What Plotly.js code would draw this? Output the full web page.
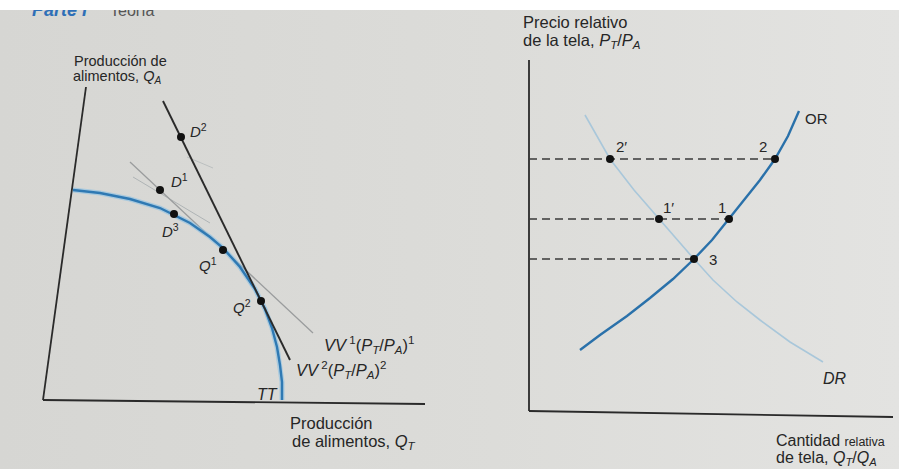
<!DOCTYPE html>
<html><head><meta charset="utf-8">
<script src="https://cdn.plot.ly/plotly-3.0.1.min.js"></script>
<style>
html,body{margin:0;padding:0;background:#ffffff;overflow:hidden;}
#chart{width:899px;height:459px;margin-top:10px;background:linear-gradient(to right,#d6d6d3,#dcdcd9 55%,#e3e3e1);}
</style></head><body><div id="chart"></div>
<script>
// ---------- Left panel: production possibilities ----------
const axisQAx = [0, 4.3],  axisQAy = [0, 31.3];
const axisQTx = [0, 38.2], axisQTy = [0, -0.4];
const ttX = [3.0, 5.7, 8.7, 11.7, 13.1, 14.7, 16.7, 18.0, 19.7, 21.2, 22.2, 22.9, 23.4, 23.7, 23.9, 23.9];
const ttY = [21.0, 20.7, 20.1, 19.2, 18.5, 17.7, 16.3, 15.2, 13.3, 11.1, 9.1, 7.2, 5.3, 3.5, 1.8, 0.0];
const vv2X = [12.0, 24.7], vv2Y = [29.9, 4.0];
const vv1X = [8.7, 27.0],  vv1Y = [23.8, 6.7];
const faintX = [9.0, 16.7], faintY = [22.3, 17.7];
const faint2X = [14.4, 17.0], faint2Y = [24.3, 23.2];
const leftPtNames = ['D2', 'D1', 'D3', 'Q1', 'Q2'];
const leftPtX = [13.8, 11.7, 13.1, 18.0, 21.8];
const leftPtY = [26.3, 21.0, 18.6, 15.0, 9.9];
const leftLabels = ['<i>D</i><sup>2</sup>', '<i>D</i><sup>1</sup>', '<i>D</i><sup>3</sup>', '<i>Q</i><sup>1</sup>', '<i>Q</i><sup>2</sup>'];
const leftLabX = [15.5, 13.6, 12.7, 16.5, 19.9];
const leftLabY = [27.0, 22.0, 17.0, 13.6, 9.4];

// ---------- Right panel: relative supply and demand ----------
const axisPx = [0, 0],    axisPy = [0, 35.1];
const axisQx = [0, 36.4], axisQy = [0, -0.6];
const orX = [5.1, 7.1, 9.8, 12.1, 14.4, 16.5, 18.3, 20.0, 21.6, 23.1, 24.6, 25.9, 27.0];
const orY = [6.1, 7.6, 9.5, 11.3, 13.2, 15.2, 17.1, 19.2, 21.2, 23.1, 25.2, 27.5, 30.0];
const drX = [5.6, 6.9, 8.1, 10.5, 13.0, 16.5, 18.4, 20.8, 23.1, 26.1, 29.4];
const drY = [29.6, 27.3, 25.2, 22.1, 19.2, 15.2, 13.1, 10.9, 9.1, 6.9, 4.9];
const rightPtNames = ['2′', '2', '1′', '1', '3'];
const rightPtX = [8.1, 24.6, 13.0, 20.0, 16.5];
const rightPtY = [25.2, 25.2, 19.2, 19.2, 15.2];
const levelEndX = [24.6, 20.0, 16.5];
const levelY = [25.2, 19.2, 15.2];
const rightLabX = [9.2, 23.4, 13.9, 19.3, 18.4];
const rightLabY = [26.5, 26.5, 20.4, 20.4, 15.2];

const black = '#2a2a2a';
const traces = [];
function line(x, y, color, width, xa, ya, dash) {
  traces.push({x: x, y: y, xaxis: xa, yaxis: ya, mode: 'lines', type: 'scatter',
    line: {color: color, width: width, dash: dash || 'solid'}, hoverinfo: 'skip', showlegend: false});
}
// left
line(axisQAx, axisQAy, black, 1.8, 'x', 'y');
line(axisQTx, axisQTy, black, 1.8, 'x', 'y');
line(faint2X, faint2Y, 'rgba(150,160,165,0.45)', 1, 'x', 'y');
line(faintX, faintY, 'rgba(140,150,155,0.55)', 1, 'x', 'y');
line(vv1X, vv1Y, '#9a9c9d', 1.3, 'x', 'y');
line(ttX, ttY, 'rgba(130,190,230,0.55)', 5, 'x', 'y');
line(ttX, ttY, '#2f79b3', 2.4, 'x', 'y');
line(vv2X, vv2Y, black, 1.9, 'x', 'y');
traces.push({x: leftPtX, y: leftPtY, text: leftPtNames, xaxis: 'x', yaxis: 'y', mode: 'markers', type: 'scatter',
  marker: {color: '#111', size: 8}, hoverinfo: 'text', showlegend: false});
// right
line(axisPx, axisPy, black, 1.8, 'x2', 'y2');
line(axisQx, axisQy, black, 1.8, 'x2', 'y2');
for (let i = 0; i < levelY.length; i++) {
  line([0, levelEndX[i]], [levelY[i], levelY[i]], '#3a3a3a', 1.3, 'x2', 'y2', '8px,5px');
}
line(drX, drY, '#a9c7da', 1.6, 'x2', 'y2');
line(orX, orY, '#2a71aa', 2.4, 'x2', 'y2');
traces.push({x: rightPtX, y: rightPtY, text: rightPtNames, xaxis: 'x2', yaxis: 'y2', mode: 'markers', type: 'scatter',
  marker: {color: '#111', size: 8}, hoverinfo: 'text', showlegend: false});

const F = 'Liberation Sans, Arial, sans-serif';
const txt = '#262626';
const ann = [];
function a(text, x, y, xref, yref, size, opts) {
  ann.push(Object.assign({text: text, x: x, y: y, xref: xref, yref: yref, showarrow: false,
    font: {family: F, size: size, color: txt}, xanchor: 'center', yanchor: 'middle'}, opts || {}));
}
for (let i = 0; i < leftLabels.length; i++) a(leftLabels[i], leftLabX[i], leftLabY[i], 'x', 'y', 15);
a('<i>TT</i>', 22.4, 0.6, 'x', 'y', 16);
a('<i>VV</i><sup> 1</sup>(<i>P<sub>T</sub></i>/<i>P<sub>A</sub></i>)<sup>1</sup>', 27.9, 5.5, 'x', 'y', 16.5, {xanchor: 'left'});
a('<i>VV</i><sup> 2</sup>(<i>P<sub>T</sub></i>/<i>P<sub>A</sub></i>)<sup>2</sup>', 25.1, 3.0, 'x', 'y', 16.5, {xanchor: 'left'});
a('Producción de', 72/899, (469-61)/459, 'paper', 'paper', 14.5, {xanchor: 'left'});
a('alimentos, <i>Q<sub>A</sub></i>', 71/899, (469-77)/459, 'paper', 'paper', 14.5, {xanchor: 'left'});
a('Producción', 288/899, (469-423)/459, 'paper', 'paper', 16.5, {xanchor: 'left'});
a('de alimentos, <i>Q<sub>T</sub></i>', 290/899, (469-442)/459, 'paper', 'paper', 16.5, {xanchor: 'left'});
for (let i = 0; i < rightPtNames.length; i++) a(rightPtNames[i], rightLabX[i], rightLabY[i], 'x2', 'y2', 15);
a('OR', 28.7, 29.3, 'x2', 'y2', 15);
a('<i>DR</i>', 30.6, 3.3, 'x2', 'y2', 16);
a('Precio relativo', 521/899, (469-22)/459, 'paper', 'paper', 16.5, {xanchor: 'left'});
a('de la tela, <i>P<sub>T</sub></i>/<i>P<sub>A</sub></i>', 521/899, (469-41)/459, 'paper', 'paper', 16.5, {xanchor: 'left'});
a('Cantidad <span style="font-size:12.5px">relativa</span>', 774/899, (469-440)/459, 'paper', 'paper', 16, {xanchor: 'left'});
a('de tela, <i>Q<sub>T</sub></i>/<i>Q<sub>A</sub></i>', 774/899, (469-458)/459, 'paper', 'paper', 16, {xanchor: 'left'});
// clipped running header
a('<b><i>Parte I</i></b>', 30/899, 1.0, 'paper', 'paper', 18, {xanchor: 'left', font: {family: F, size: 18, color: '#2e6fb7'}});
a('Teoría', 108/899, 1.0, 'paper', 'paper', 16, {xanchor: 'left', font: {family: F, size: 16, color: '#555'}});

const hidden = {visible: false, showgrid: false, zeroline: false, fixedrange: true};
const layout = {
  width: 899, height: 459,
  margin: {l: 0, r: 0, t: 0, b: 0},
  paper_bgcolor: 'rgba(0,0,0,0)', plot_bgcolor: 'rgba(0,0,0,0)',
  showlegend: false,
  xaxis: Object.assign({range: [-2, 40], domain: [23/899, 443/899]}, hidden),
  yaxis: Object.assign({range: [-2, 34], domain: [49/459, 409/459]}, hidden),
  xaxis2: Object.assign({range: [-1, 37], domain: [519/899, 1], anchor: 'y2'}, hidden),
  yaxis2: Object.assign({range: [-2, 36], domain: [38/459, 418/459], anchor: 'x2'}, hidden),
  annotations: ann
};
Plotly.newPlot('chart', traces, layout, {displayModeBar: false, staticPlot: true});
</script></body></html>
